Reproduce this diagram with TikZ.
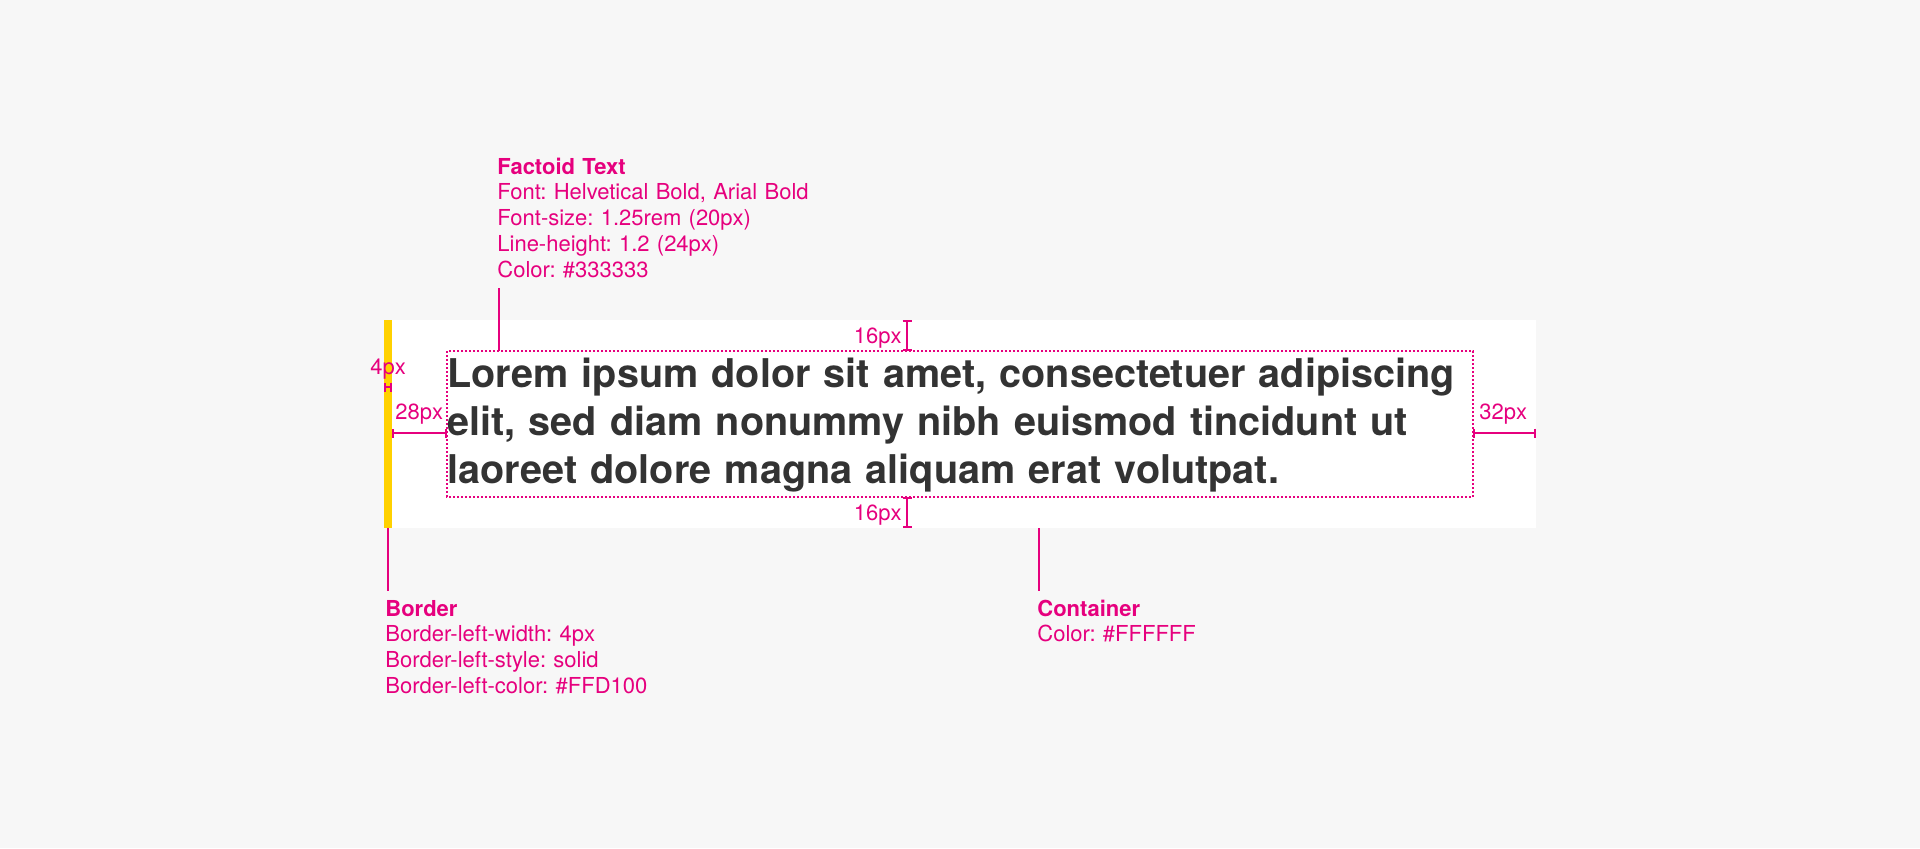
\documentclass[tikz,border=0pt]{standalone}
\usepackage{fontspec}
\setmainfont{TeX Gyre Heros}
\usepackage{tikz}
\usetikzlibrary{arrows.meta,positioning}
\definecolor{specpink}{RGB}{230,0,126}
\definecolor{specgray}{RGB}{247,247,247}
\definecolor{factoidgray}{RGB}{51,51,51}
\definecolor{borderyellow}{RGB}{255,209,0}
\frenchspacing

\begin{document}
\begin{tikzpicture}[
  x=0.5pt, y=-0.5pt,
  note/.style={anchor=base west, inner sep=0, text=specpink, align=left, text width=220pt, font=\fontsize{11pt}{12.9pt}\selectfont},
  dimlbl/.style={inner sep=0, text=specpink, font=\fontsize{11pt}{12.9pt}\selectfont},
  dimline/.style={{Bar[width=4.5pt]}-{Bar[width=4.5pt]}, line width=1pt, specpink},
  lead/.style={line width=1pt, specpink},
  pad/.style={line width=1pt, specpink, dash pattern=on 1pt off 1pt},
  factoid/.style={anchor=base west, inner sep=0, text=factoidgray, align=left, text width=540pt, font=\fontsize{19.8pt}{24pt}\selectfont\bfseries}
]
  % page
  \fill[specgray] (0,0) rectangle (1920,848);

  % container and left border
  \coordinate (contnw) at (392,320);
  \coordinate (contse) at (1536,528);
  \fill[white] (contnw) rectangle (contse);
  \fill[borderyellow] (384,320) rectangle (contnw |- contse);

  % text box
  \coordinate (boxnw) at (447,351);
  \coordinate (boxse) at (1473,497);
  \draw[pad] (boxnw) rectangle (boxse);
  \node[factoid] (lorem) at (447,387) {Lorem ipsum dolor sit amet, consectetuer adipiscing\\
    elit, sed diam nonummy nibh euismod tincidunt ut\\
    laoreet dolore magna aliquam erat volutpat.};

  % paddings
  \coordinate (padx) at (907,0);
  \coordinate (pady) at (0,433);
  \draw[dimline] (padx |- contnw) -- (padx |- boxnw);
  \draw[dimline] (padx |- boxse) -- (padx |- contse);
  \draw[dimline] (pady -| contnw) -- (pady -| boxnw);
  \draw[dimline] (pady -| boxse) -- (pady -| contse);
  \coordinate (bordl) at (384,387);
  \coordinate (bordr) at (392,387);
  \draw[dimline] (bordl) -- (bordr);

  \node[dimlbl, anchor=base east] (padtop) at (902,343) {16px};
  \node[dimlbl, anchor=base east] (padbot) at (902,520) {16px};
  \node[dimlbl, anchor=base west] (padleft) at (395,419) {28px};
  \node[dimlbl, anchor=base west] (padright) at (1479,419) {32px};
  \node[dimlbl, anchor=base west] (bordwidth) at (370,374) {4px};

  % notes
  \node[note] (factnote) at (497,174) {\textbf{Factoid Text}\\
    Font: Helvetical Bold, Arial Bold\\
    Font-size: 1.25rem (20px)\\
    Line-height: 1.2 (24px)\\
    Color: \#333333};
  \node[note] (bordnote) at (385,616) {\textbf{Border}\\
    Border-left-width: 4px\\
    Border-left-style: solid\\
    Border-left-color: \#FFD100};
  \node[note] (contnote) at (1037,616) {\textbf{Container}\\
    Color: \#FFFFFF};

  % leaders
  \coordinate (factlead) at (499,288);
  \coordinate (bordlead) at (388,591);
  \coordinate (contlead) at (1039,591);
  \draw[lead] (factlead) -- (factlead |- boxnw);
  \draw[lead] (bordlead |- contse) -- (bordlead);
  \draw[lead] (contlead |- contse) -- (contlead);
\end{tikzpicture}
\end{document}
